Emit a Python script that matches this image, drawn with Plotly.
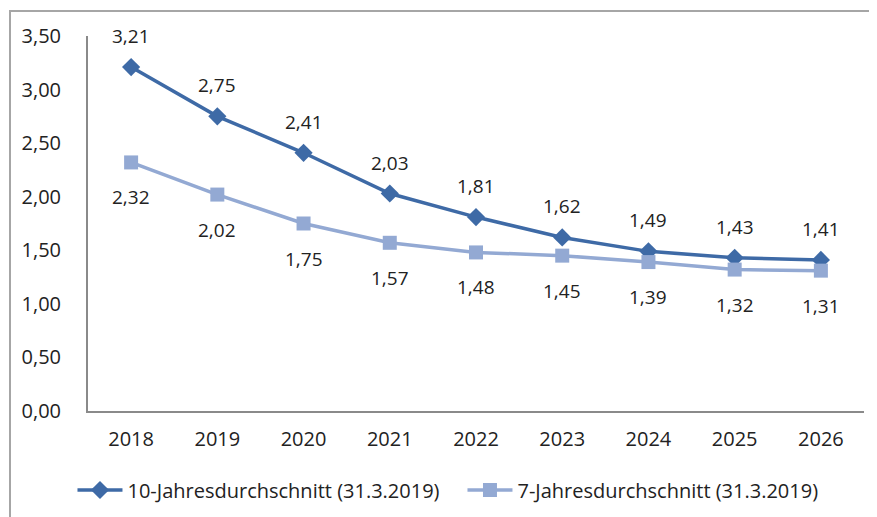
import plotly.graph_objects as go

years = ["2018", "2019", "2020", "2021", "2022", "2023", "2024", "2025", "2026"]
avg10 = [3.21, 2.75, 2.41, 2.03, 1.81, 1.62, 1.49, 1.43, 1.41]
avg7 = [2.32, 2.02, 1.75, 1.57, 1.48, 1.45, 1.39, 1.32, 1.31]
name10 = "10-Jahresdurchschnitt (31.3.2019)"
name7 = "7-Jahresdurchschnitt (31.3.2019)"

FONT = "Open Sans, Liberation Sans, sans-serif"
TXT = "#222222"
FS = 20

def fmt(v):
    return f"{v:.2f}".replace(".", ",")

fig = go.Figure()
fig.add_trace(go.Scatter(
    x=years, y=avg10, name=name10, mode="lines+markers",
    line=dict(color="#3E6AA6", width=3.5),
    marker=dict(symbol="diamond", size=14, color="#3E6AA6"),
))
fig.add_trace(go.Scatter(
    x=years, y=avg7, name=name7, mode="lines+markers",
    line=dict(color="#93A9D3", width=3.5),
    marker=dict(symbol="square", size=14, color="#93A9D3"),
))

annotations = []
for i, v in enumerate(avg10):
    annotations.append(dict(x=i, y=v, xref="x", yref="y", text=fmt(v), showarrow=False,
                            yshift=31, font=dict(size=FS - 1, color=TXT, family=FONT)))
for i, v in enumerate(avg7):
    annotations.append(dict(x=i, y=v, xref="x", yref="y", text=fmt(v), showarrow=False,
                            yshift=-35, font=dict(size=FS - 1, color=TXT, family=FONT)))

W, H = 869, 509
L, T, R, B = 80, 28, 13, 106
PW, PH = W - L - R, H - T - B

fig.update_layout(
    width=W, height=H,
    margin=dict(l=L, r=R, t=T, b=B, autoexpand=False),
    paper_bgcolor="white", plot_bgcolor="white",
    separators=",.",
    font=dict(family=FONT, size=FS, color=TXT),
    showlegend=True,
    legend=dict(orientation="h", x=-0.02, xanchor="left", y=(PH - (490 - 8 - T)) / PH,
                yanchor="middle",
                font=dict(size=FS, color=TXT, family=FONT), itemwidth=45,
                entrywidthmode="pixels", entrywidth=330),
    xaxis=dict(type="category", range=[-0.5, 8.5], showline=True, linecolor="#8A8A8A",
               linewidth=2, ticks="", showgrid=False, tickfont=dict(size=FS, color=TXT),
               ticklabelstandoff=9, fixedrange=True, automargin=False),
    yaxis=dict(range=[0, 3.5], dtick=0.5, tickformat=".2f", showline=True,
               linecolor="#8A8A8A", linewidth=2, ticks="", showgrid=False,
               tickfont=dict(size=FS, color=TXT), ticklabelstandoff=21, zeroline=False,
               fixedrange=True, automargin=False),
    annotations=annotations,
    shapes=[dict(type="rect", xref="paper", yref="paper",
                 x0=(2 - L) / PW, x1=(W + 20 - L) / PW,
                 y0=(PH + T - (H + 20)) / PH, y1=(PH + T - 3) / PH,
                 line=dict(color="#A6A6A6", width=2), layer="below")],
)

fig.write_html("out.html")
